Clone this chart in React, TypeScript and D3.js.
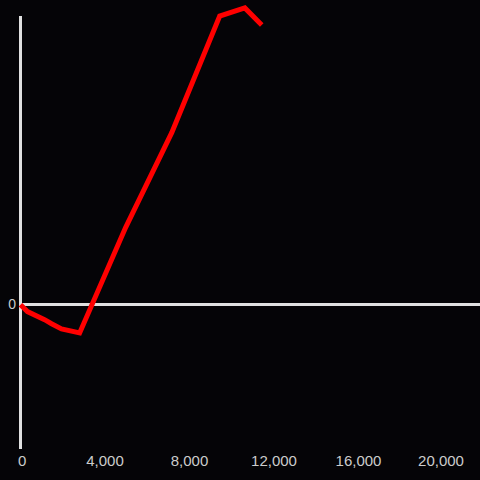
import React from "react";
import * as d3 from "d3";

const xValues = [0, 330, 1140, 1470, 1940, 2800, 4980, 7160, 9430, 10620, 11420];
const yValues = [0, -24, -52, -66, -84, -98, 268, 596, 1000, 1028, 969];
const xTicks = [0, 4000, 8000, 12000, 16000, 20000];

export default function App() {
  const W = 480, H = 480;
  const x = d3.scaleLinear().domain([0, 20000]).range([20.5, 443]);
  const y = d3.scaleLinear().domain([-500, 1000]).range([449, 16]);
  const pts: [number, number][] = xValues.map((v, i) => [v, yValues[i]]);
  const line = d3.line<[number, number]>().x(d => x(d[0])).y(d => y(d[1]));
  const fmt = d3.format(",");
  const y0 = Math.floor(y(0)) + 0.5;
  const font = "Liberation Sans, Arial, sans-serif";
  return (
    <div style={{ position: "fixed", left: 0, top: 0, width: W, height: H }}>
      <svg width={W} height={H} style={{ display: "block", background: "#050407" }}>
        <line x1={20.5} x2={20.5} y1={16} y2={449} stroke="#e0e0e0" strokeWidth={3} />
        <line x1={19} x2={W} y1={y0} y2={y0} stroke="#e0e0e0" strokeWidth={3} />
        <text x={16} y={y0} dy="0.35em" textAnchor="end" fill="#cccccc" fontFamily={font} fontSize={14}>0</text>
        {xTicks.map(t => (
          <text key={t} x={t === 0 ? 18 : x(t) - (t === 20000 ? 2 : 0)} y={461} dy="0.35em" textAnchor={t === 0 ? "start" : "middle"} fill="#cccccc" fontFamily={font} fontSize={15}>{fmt(t)}</text>
        ))}
        <path d={line(pts) || ""} fill="none" stroke="#ff0000" strokeWidth={5} strokeLinejoin="miter" />
      </svg>
    </div>
  );
}
